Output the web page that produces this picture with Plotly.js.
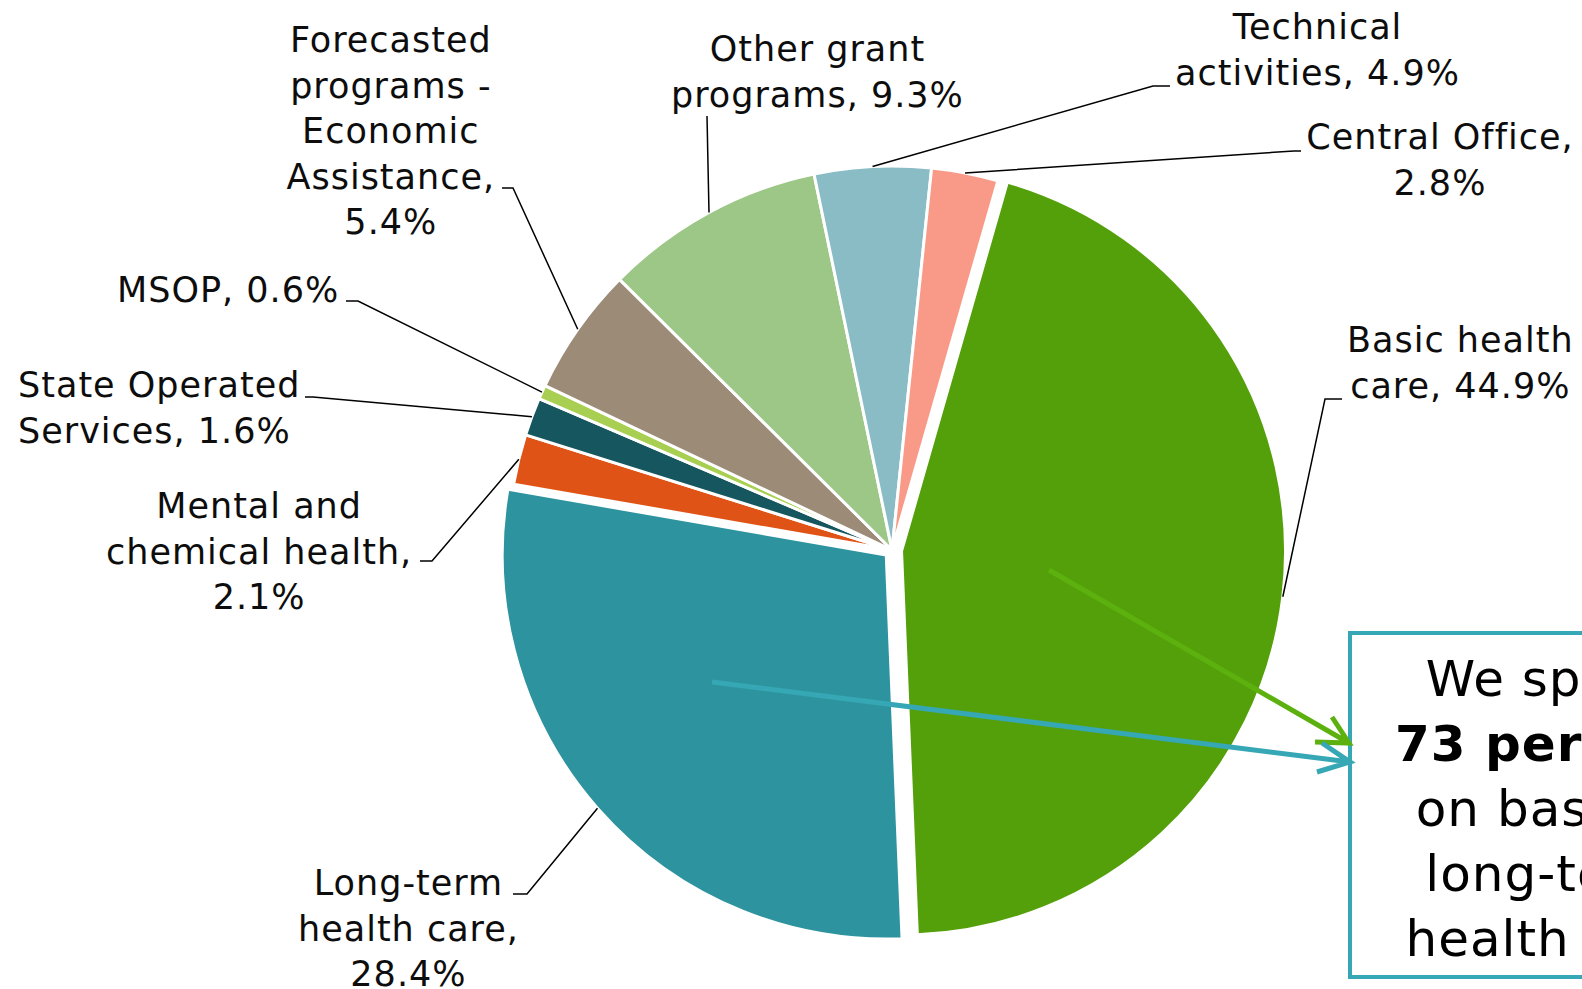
<!DOCTYPE html>
<html>
<head>
<meta charset="utf-8">
<script src="https://cdn.plot.ly/plotly-3.0.1.min.js"></script>
<style>
html,body{margin:0;padding:0;background:#fff;}
#chart{width:1582px;height:989px;}
#chart .annotation-text{letter-spacing:1px;}
</style>
</head>
<body>
<div id="chart"></div>
<script>
// ---- data ----
const categories = ["Basic health care", "Long-term health care", "Mental and chemical health", "State Operated Services", "MSOP", "Forecasted programs - Economic Assistance", "Other grant programs", "Technical activities", "Central Office"];
const shares = [44.9, 28.4, 2.1, 1.6, 0.6, 5.4, 9.3, 4.9, 2.8];
const labelTemplates = ["Basic health<br>care, {v}", "Long-term<br>health care,<br>{v}", "Mental and<br>chemical health,<br>{v}", "State Operated<br>Services, {v}", "MSOP, {v}", "Forecasted<br>programs -<br>Economic<br>Assistance,<br>{v}", "Other grant<br>programs, {v}", "Technical<br>activities, {v}", "Central Office,<br>{v}"];
const calloutText = "We spend<br><b>73 percent</b><br>on basic &amp;<br>long-term<br>health care";

// ---- styling ----
const colors = ["#54a00a", "#2d939e", "#df5416", "#16575f", "#a8cf52", "#9c8b77", "#9cc787", "#8abcc6", "#f89a87"];
const pulls = [0.025, 0.02, 0, 0, 0, 0, 0, 0, 0];
const W = 1582, H = 989;
const CX = 892, CY = 550, R = 384, ROT = 16;
const maxPull = Math.max.apply(null, pulls);
const RB = R * (1 + maxPull);

// label text centres and leader-line elbows (pixels)
const labelPos = [
  {x: 1460, y: 363, align: "center", elbow: [[1342, 399], [1325, 399]]},
  {x: 409, y: 928, align: "center", elbow: [[513, 894], [527, 894]]},
  {x: 259, y: 551, align: "center", elbow: [[420, 561], [432, 561]]},
  {x: 152, y: 408, align: "left", elbow: [[305, 397], [313, 397]]},
  {x: 228, y: 290, align: "center", elbow: [[346, 301], [358, 301]]},
  {x: 391, y: 131, align: "center", elbow: [[502, 188], [513, 188]]},
  {x: 817, y: 72, align: "center", elbow: [[707, 116]]},
  {x: 1317, y: 50, align: "center", elbow: [[1170, 86], [1153, 86]]},
  {x: 1440, y: 160, align: "center", elbow: [[1301, 151], [1294, 151]]}
];

const px = x => x / W;
const py = y => 1 - y / H;
const FONT = "DejaVu Sans, Verdana, sans-serif";

const total = shares.reduce((a, b) => a + b, 0);
let cum = 0;
const annotations = [];
const shapes = [];
shares.forEach((v, i) => {
  const mid = (cum + v / 2) / total;
  cum += v;
  const ang = (ROT + mid * 360) * Math.PI / 180;
  const rr = R * (1 + pulls[i]);
  const tx = CX + rr * Math.sin(ang);
  const ty = CY - rr * Math.cos(ang);
  const lp = labelPos[i];
  annotations.push({
    xref: "paper", yref: "paper", x: px(lp.x), y: py(lp.y),
    xanchor: "center", yanchor: "middle", showarrow: false, align: lp.align,
    text: labelTemplates[i].replace("{v}", v.toFixed(1) + "%"),
    font: {family: FONT, size: 35, color: "#0d0d0d"}
  });
  const pts = lp.elbow.concat([[tx, ty]]);
  const path = pts.map((p, k) => (k ? "L" : "M") + px(p[0]).toFixed(5) + "," + py(p[1]).toFixed(5)).join(" ");
  shapes.push({type: "path", xref: "paper", yref: "paper", path: path, line: {color: "#000", width: 1.5}, layer: "above"});
});

// callout box
shapes.push({type: "rect", xref: "paper", yref: "paper", x0: px(1350), x1: px(1800), y0: py(977), y1: py(633),
  line: {color: "#36a7b4", width: 4}, fillcolor: "rgba(255,255,255,0)", layer: "above"});
annotations.push({xref: "paper", yref: "paper", x: px(1552), y: py(809), xanchor: "center", yanchor: "middle",
  showarrow: false, align: "center", text: calloutText, font: {family: FONT, size: 50, color: "#000"}});

// arrows
function arrowPath(a, b, h1, h2) {
  return "M" + px(a[0]) + "," + py(a[1]) + " L" + px(b[0]) + "," + py(b[1]) +
    " M" + px(h1[0]) + "," + py(h1[1]) + " L" + px(b[0]) + "," + py(b[1]) + " L" + px(h2[0]) + "," + py(h2[1]);
}
shapes.push({type: "path", xref: "paper", yref: "paper", layer: "above",
  path: arrowPath([1049, 570], [1349, 743], [1332, 717], [1315, 742]), line: {color: "#5cb10e", width: 5}});
shapes.push({type: "path", xref: "paper", yref: "paper", layer: "above",
  path: arrowPath([712, 682], [1350, 762], [1322, 743], [1317, 772]), line: {color: "#36a7b4", width: 5}});

const trace = {
  type: "pie", labels: categories, values: shares, sort: false, direction: "clockwise", rotation: ROT,
  pull: pulls, textinfo: "none", hoverinfo: "label+percent",
  marker: {colors: colors, line: {color: "#ffffff", width: 3}},
  domain: {x: [(CX - RB) / W, (CX + RB) / W], y: [1 - (CY + RB) / H, 1 - (CY - RB) / H]},
  automargin: false
};

Plotly.newPlot("chart", [trace], {
  width: W, height: H, margin: {l: 0, r: 0, t: 0, b: 0},
  paper_bgcolor: "#fff", showlegend: false, annotations: annotations, shapes: shapes,
  font: {family: FONT}
}, {displayModeBar: false, staticPlot: true});
</script>
</body>
</html>
